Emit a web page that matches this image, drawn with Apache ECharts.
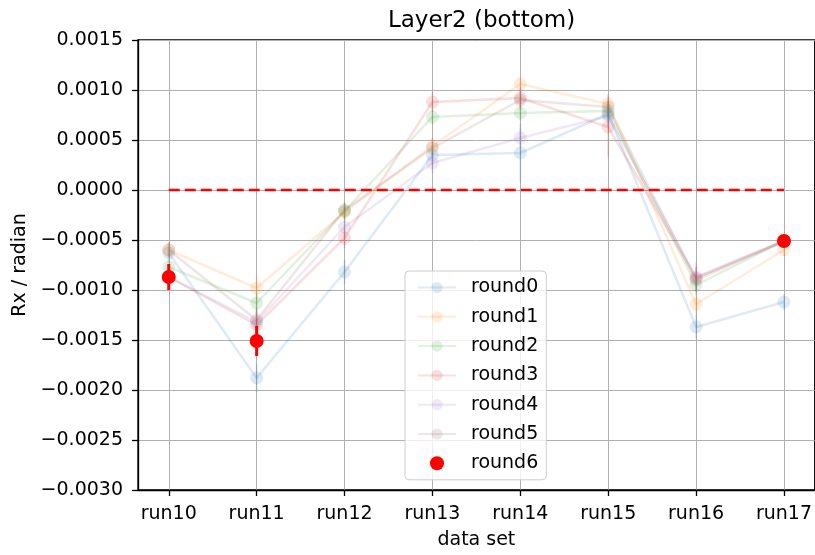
<!DOCTYPE html>
<html>
<head>
<meta charset="utf-8">
<script src="https://cdn.jsdelivr.net/npm/echarts@6/dist/echarts.min.js"></script>
<style>html,body{margin:0;padding:0;background:#fff;}#c{width:815px;height:555px;}</style>
</head>
<body>
<div id="c"></div>
<script>
const categories = ['run10','run11','run12','run13','run14','run15','run16','run17'];
const yTicks = [-0.003,-0.0025,-0.002,-0.0015,-0.001,-0.0005,0,0.0005,0.001,0.0015];

const round0 = [-0.00063,-0.00188,-0.00082, 0.00035, 0.00037, 0.00076,-0.00137,-0.00112];
const round1 = [-0.00060,-0.00098,-0.00022, 0.00044, 0.00106, 0.00086,-0.00114,-0.00060];
const round2 = [-0.00077,-0.00113,-0.00021, 0.00073, 0.00077, 0.00079,-0.00095,-0.00051];
const round3 = [-0.00087,-0.00135,-0.00048, 0.00088, 0.00092, 0.00063,-0.00088,-0.00051];
const round4 = [-0.00087,-0.00132,-0.00037, 0.00027, 0.00052, 0.00074,-0.00087,-0.00051];
const round5 = [-0.00060,-0.00130,-0.00020, 0.00042, 0.00090, 0.00083,-0.00090,-0.00051];
const round6 = [-0.00087,-0.00151, null, null, null, null, null,-0.00051];

const err0 = [0.00010,0.00014,0.00012,0.00010,0.00030,0.00012,0.00012,0.00008];
const err1 = [0.00008,0.00012,0.00008,0.00008,0.00008,0.00010,0.00010,0.00006];
const err2 = [0.00008,0.00010,0.00008,0.00008,0.00008,0.00010,0.00010,0.00006];
const err3 = [0.00010,0.00012,0.00010,0.00010,0.00010,0.00030,0.00012,0.00006];
const err4 = [0.00010,0.00012,0.00010,0.00010,0.00010,0.00012,0.00015,0.00006];
const err5 = [0.00008,0.00012,0.00008,0.00010,0.00010,0.00012,0.00012,0.00006];
const err6 = [0.00013,0.00015, null, null, null, null, null,0.00003];

const refLine = [0, 0];

const roundVals = [round0, round1, round2, round3, round4, round5];
const roundErrs = [err0, err1, err2, err3, err4, err5];
const baseColors = [[31,119,180],[255,127,14],[44,160,44],[214,39,40],[148,103,189],[140,86,75]];
const A = 0.15;
const rgba = (c, a) => `rgba(${c[0]},${c[1]},${c[2]},${a})`;

function errSeries(vals, errs, color, width, z) {
  const data = [];
  vals.forEach((v, j) => { if (v !== null) data.push([j, v, errs[j]]); });
  return {
    type: 'custom', z: z, silent: true,
    encode: { x: 0, y: 1 },
    data: data,
    renderItem: function (params, api) {
      const x = api.value(0), y = api.value(1), e = api.value(2);
      const p1 = api.coord([x, y - e]), p2 = api.coord([x, y + e]);
      return { type: 'line', shape: { x1: p1[0], y1: p1[1], x2: p2[0], y2: p2[1] },
               style: { stroke: color, lineWidth: width } };
    }
  };
}

const series = [];
roundVals.forEach((vals, i) => {
  series.push(errSeries(vals, roundErrs[i], rgba(baseColors[i], A), 2, 2));
  series.push({
    name: 'round' + i, type: 'line', z: 3,
    data: vals.map((v, j) => [j, v]),
    symbol: 'circle', symbolSize: 13, showAllSymbol: true,
    lineStyle: { color: rgba(baseColors[i], A), width: 2.5 },
    itemStyle: { color: rgba(baseColors[i], A), borderWidth: 0 },
    emphasis: { disabled: true }
  });
});
series.push(errSeries(round6, err6, '#ff0000', 3, 5));
series.push({
  name: 'round6', type: 'scatter', z: 6,
  data: round6.map((v, j) => [j, v]).filter(d => d[1] !== null),
  symbol: 'circle', symbolSize: 14,
  itemStyle: { color: '#ff0000', opacity: 1 },
  emphasis: { disabled: true }
});
series.push({
  type: 'line', z: 7, silent: true,
  data: [[0, refLine[0]], [categories.length - 1, refLine[1]]],
  symbol: 'none',
  lineStyle: { color: '#ff0000', width: 2.5, type: [11, 5] }
});

const idx = categories.map((c, j) => j);
const font = 'DejaVu Sans';

const option = {
  animation: false,
  backgroundColor: '#fff',
  title: {
    text: 'Layer2 (bottom)', left: 476.5, top: 5, textAlign: 'center',
    textStyle: { fontFamily: font, fontSize: 23, fontWeight: 'normal', color: '#000' }
  },
  grid: { left: 138, right: 0, top: 40, bottom: 62, show: true, borderColor: '#000', borderWidth: 1.3, containLabel: false },
  legend: {
    data: ['round0','round1','round2','round3','round4','round5','round6'],
    orient: 'vertical', left: 405, top: 271,
    itemWidth: 38, itemHeight: 14, itemGap: 10.3,
    padding: [7, 8, 7, 12],
    backgroundColor: 'rgba(255,255,255,0.8)', borderColor: '#cccccc', borderWidth: 1, borderRadius: 4,
    textStyle: { fontFamily: font, fontSize: 19, color: '#000', lineHeight: 19, padding: [0, 0, 0, 10] }
  },
  xAxis: {
    type: 'value', min: -0.35, max: 7.35,
    name: 'data set', nameLocation: 'middle', nameGap: 41,
    nameTextStyle: { fontFamily: font, fontSize: 19, color: '#000' },
    axisLine: { show: true, onZero: false, lineStyle: { color: '#000', width: 1.3 } },
    axisTick: { show: true, customValues: idx, length: 6, lineStyle: { color: '#000', width: 1.3 } },
    axisLabel: { customValues: idx, margin: 15, fontFamily: font, fontSize: 19, color: '#000',
                 formatter: v => categories[Math.round(v)] || '' },
    splitLine: { show: true, customValues: idx, lineStyle: { color: '#b0b0b0', width: 1 } }
  },
  yAxis: {
    type: 'value', min: -0.003, max: 0.0015, interval: 0.0005,
    name: 'Rx / radian', nameLocation: 'middle', nameGap: 108, nameRotate: 90,
    nameTextStyle: { fontFamily: font, fontSize: 19, color: '#000' },
    axisLine: { show: true, onZero: false, lineStyle: { color: '#000', width: 1.3 } },
    axisTick: { show: true, length: 6, lineStyle: { color: '#000', width: 1.3 } },
    axisLabel: { margin: 15, fontFamily: font, fontSize: 19, color: '#000',
                 formatter: v => (v < -1e-12 ? '\u2212' : '') + Math.abs(v).toFixed(4) },
    splitLine: { show: true, lineStyle: { color: '#b0b0b0', width: 1 } }
  },
  series: series
};

const chart = echarts.init(document.getElementById('c'), null, { renderer: 'canvas' });
chart.setOption(option);
</script>
</body>
</html>
